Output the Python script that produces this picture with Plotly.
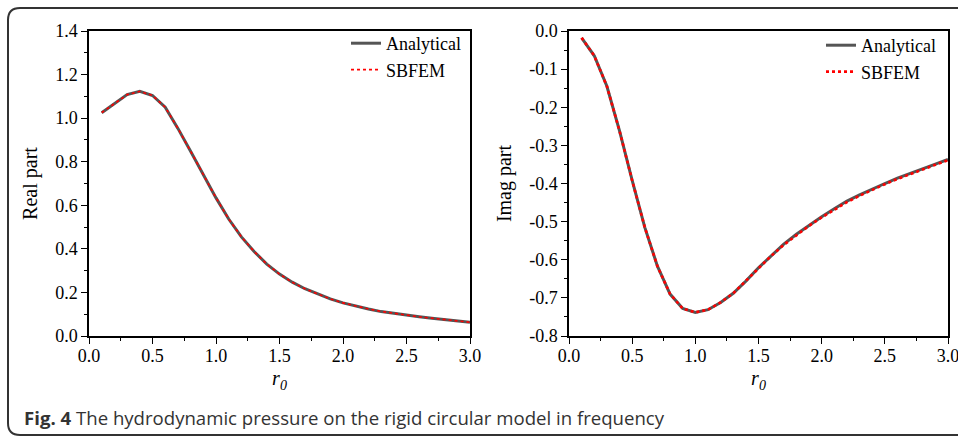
import plotly.graph_objects as go

r0 = [0.1, 0.2, 0.3, 0.4, 0.5, 0.6, 0.7, 0.8, 0.9, 1.0,
      1.1, 1.2, 1.3, 1.4, 1.5, 1.6, 1.7, 1.8, 1.9, 2.0,
      2.1, 2.2, 2.3, 2.4, 2.5, 2.6, 2.7, 2.8, 2.9, 3.0]

real_analytical = [1.025, 1.068, 1.108, 1.123, 1.104, 1.050, 0.953, 0.848, 0.738, 0.634,
                   0.537, 0.455, 0.388, 0.330, 0.284, 0.247, 0.217, 0.192, 0.170, 0.152,
                   0.137, 0.124, 0.112, 0.103, 0.096, 0.088, 0.081, 0.074, 0.068, 0.063]
real_sbfem = [1.025, 1.068, 1.108, 1.123, 1.104, 1.050, 0.953, 0.848, 0.738, 0.634,
              0.537, 0.455, 0.388, 0.330, 0.284, 0.247, 0.217, 0.192, 0.170, 0.152,
              0.137, 0.124, 0.113, 0.103, 0.096, 0.088, 0.081, 0.074, 0.068, 0.063]

imag_analytical = [-0.018, -0.065, -0.145, -0.262, -0.392, -0.515, -0.617, -0.690, -0.728, -0.738,
                   -0.731, -0.712, -0.688, -0.656, -0.621, -0.589, -0.559, -0.533, -0.509, -0.487,
                   -0.466, -0.446, -0.430, -0.414, -0.400, -0.386, -0.373, -0.361, -0.349, -0.337]
imag_sbfem = [-0.018, -0.065, -0.145, -0.262, -0.392, -0.515, -0.617, -0.690, -0.728, -0.738,
              -0.731, -0.712, -0.688, -0.656, -0.622, -0.590, -0.561, -0.535, -0.511, -0.489,
              -0.468, -0.449, -0.432, -0.416, -0.402, -0.388, -0.375, -0.363, -0.351, -0.339]

x_ticks = [0.0, 0.5, 1.0, 1.5, 2.0, 2.5, 3.0]
x_ticklabels = ["0.0", "0.5", "1.0", "1.5", "2.0", "2.5", "3.0"]
real_ticks = [0.0, 0.2, 0.4, 0.6, 0.8, 1.0, 1.2, 1.4]
real_ticklabels = ["0.0", "0.2", "0.4", "0.6", "0.8", "1.0", "1.2", "1.4"]
imag_ticks = [0.0, -0.1, -0.2, -0.3, -0.4, -0.5, -0.6, -0.7, -0.8]
imag_ticklabels = ["0.0", "-0.1", "-0.2", "-0.3", "-0.4", "-0.5", "-0.6", "-0.7", "-0.8"]

caption_bold = "Fig. 4"
caption_text = " The hydrodynamic pressure on the rigid circular model in frequency"

W, H = 958, 437
SERIF = "Liberation Serif"
GRAY = "#555555"

fig = go.Figure()

fig.add_trace(go.Scatter(x=r0, y=real_analytical, mode="lines", name="Analytical",
                         line=dict(color=GRAY, width=3), xaxis="x", yaxis="y", legend="legend"))
fig.add_trace(go.Scatter(x=r0, y=real_sbfem, mode="lines", name="SBFEM",
                         line=dict(color="#ff0000", width=1.6, dash="dot"), xaxis="x", yaxis="y", legend="legend"))
fig.add_trace(go.Scatter(x=r0, y=imag_analytical, mode="lines", name="Analytical",
                         line=dict(color=GRAY, width=3), xaxis="x2", yaxis="y2", legend="legend2"))
fig.add_trace(go.Scatter(x=r0, y=imag_sbfem, mode="lines", name="SBFEM",
                         line=dict(color="#ff0000", width=2.6, dash="dot"), xaxis="x2", yaxis="y2", legend="legend2"))

def px_x(p):
    return p / W

def px_y(p):
    return 1 - p / H

axis_common = dict(showline=True, linecolor="black", linewidth=1.5, mirror=True,
                   ticks="outside", ticklen=6, tickwidth=1.2, tickcolor="black",
                   showgrid=False, zeroline=False, automargin=False,
                   ticklabeloverflow="allow",
                   tickfont=dict(family=SERIF, size=18, color="black"))

title_font = dict(family=SERIF, size=20, color="black")

fig.update_layout(
    width=W, height=H,
    margin=dict(l=0, r=0, t=0, b=0, pad=0, autoexpand=False),
    paper_bgcolor="white", plot_bgcolor="white",
    showlegend=True,
    xaxis=dict(domain=[px_x(89), px_x(470)], anchor="y", range=[0, 3],
               tickvals=x_ticks, ticktext=x_ticklabels, ticklabelstandoff=-3,
               minor=dict(ticks="outside", ticklen=3, dtick=0.25, tick0=0, tickcolor="black"),
               title=dict(text="<i>r</i><sub><i>0</i></sub>", font=title_font, standoff=6),
               **axis_common),
    yaxis=dict(domain=[px_y(336), px_y(31)], anchor="x", range=[0, 1.4],
               tickvals=real_ticks, ticktext=real_ticklabels,
               minor=dict(ticks="outside", ticklen=3, dtick=0.1, tick0=0, tickcolor="black"),
               title=dict(text="Real part", font=title_font, standoff=12),
               **axis_common),
    xaxis2=dict(domain=[px_x(569), px_x(948)], anchor="y2", range=[0, 3],
                tickvals=x_ticks, ticktext=x_ticklabels, ticklabelstandoff=-3,
                minor=dict(ticks="outside", ticklen=3, dtick=0.25, tick0=0, tickcolor="black"),
                title=dict(text="<i>r</i><sub><i>0</i></sub>", font=title_font, standoff=6),
                **axis_common),
    yaxis2=dict(domain=[px_y(336), px_y(31)], anchor="x2", range=[-0.8, 0],
                tickvals=imag_ticks, ticktext=imag_ticklabels,
                minor=dict(ticks="outside", ticklen=3, dtick=0.05, tick0=0, tickcolor="black"),
                title=dict(text="Imag part", font=title_font, standoff=12),
                **axis_common),
    legend=dict(x=px_x(466), y=px_y(25), xanchor="right", yanchor="top",
                bgcolor="rgba(0,0,0,0)", font=dict(family=SERIF, size=18, color="black"),
                tracegroupgap=0, itemwidth=30),
    legend2=dict(x=px_x(941), y=px_y(27), xanchor="right", yanchor="top",
                 bgcolor="rgba(0,0,0,0)", font=dict(family=SERIF, size=18, color="black"),
                 tracegroupgap=0, itemwidth=30),
)

# rounded panel frame
fig.add_shape(type="path", xref="paper", yref="paper", xsizemode="pixel", ysizemode="pixel",
              xanchor=0, yanchor=1,
              path="M 975,-8 L 20,-8 Q 8,-8 8,-20 L 8,-423 Q 8,-435 20,-435 L 975,-435",
              line=dict(color="#333333", width=2))

fig.add_annotation(xref="paper", yref="paper", x=px_x(22), y=px_y(417), xanchor="left", yanchor="middle",
                   showarrow=False,
                   text="<b>" + caption_bold + "</b>" + caption_text,
                   font=dict(family="Open Sans", size=18.6, color="#333333"))

fig.write_html("out.html", config={"displayModeBar": False},
               post_script="document.body.style.margin='0';")
